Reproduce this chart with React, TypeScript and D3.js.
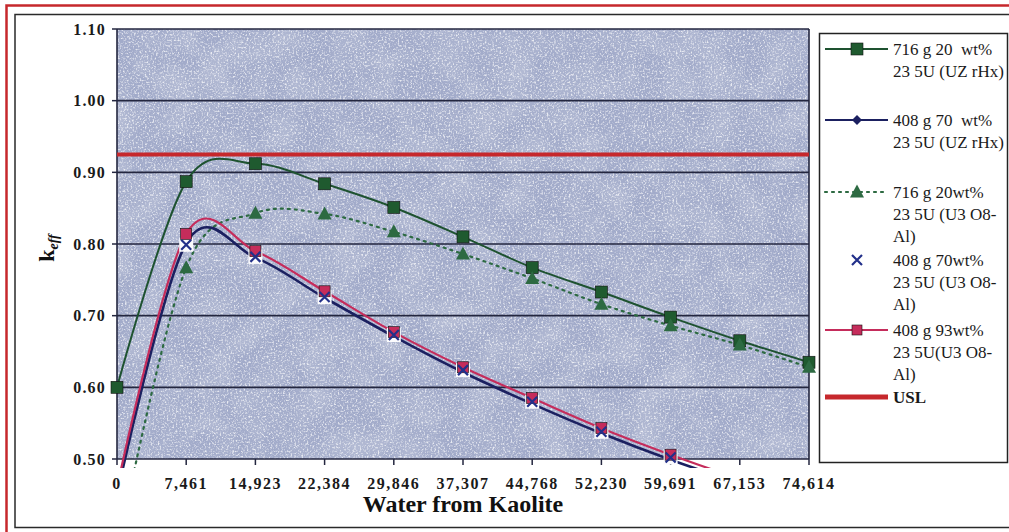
import React from "react";
import * as d3 from "d3";

const xTicks = [0, 7461, 14923, 22384, 29846, 37307, 44768, 52230, 59691, 67153, 74614];
const yTicks = [0.5, 0.6, 0.7, 0.8, 0.9, 1.0, 1.1];
const s716UZrHx = [0.6, 0.887, 0.912, 0.884, 0.851, 0.81, 0.767, 0.733, 0.698, 0.665, 0.635];
const s408UZrHx = [0.45, 0.801, 0.781, 0.725, 0.671, 0.621, 0.577, 0.536, 0.499, 0.466, 0.435];
const s716U3O8 = [0.37, 0.767, 0.843, 0.842, 0.817, 0.786, 0.752, 0.716, 0.686, 0.659, 0.628];
const s408U3O8_70 = [0.45, 0.799, 0.782, 0.726, 0.673, 0.624, 0.58, 0.538, 0.502, 0.466, 0.435];
const s408U3O8_93 = [0.46, 0.814, 0.79, 0.734, 0.677, 0.628, 0.585, 0.543, 0.506, 0.472, 0.44];
const uslValue = 0.925;

const legendLabels = [
  ["716 g 20  wt%", "23 5U (UZ rHx)"],
  ["408 g 70  wt%", "23 5U (UZ rHx)"],
  ["716 g 20wt%", "23 5U (U3 O8-", "Al)"],
  ["408 g 70wt%", "23 5U (U3 O8-", "Al)"],
  ["408 g 93wt%", "23 5U(U3 O8-", "Al)"],
  ["USL"],
];

const GREEN = "#1f5a2f";
const NAVY = "#1b2060";
const TRI = "#2d6a42";
const XCOL = "#22308a";
const PINK = "#c52c5b";
const RED = "#c6282c";
const SERIF = "'Liberation Serif', 'Times New Roman', serif";

export default function App() {
  const x = d3.scaleLinear().domain([0, 74614]).range([117, 809]);
  const y = d3.scaleLinear().domain([0.5, 1.1]).range([459, 29]);
  const line = d3
    .line<number>()
    .x((_, i) => x(xTicks[i]))
    .y((v) => y(v))
    .curve(d3.curveCardinal.tension(0));
  const fmtX = d3.format(",");
  const fmtY = d3.format(".2f");
  const vis = (v: number) => v >= 0.495;

  const square = (cx: number, cy: number, fill: string, key: string, s = 12) => (
    <rect key={key} x={cx - s / 2} y={cy - s / 2} width={s} height={s} fill={fill} stroke="#111" strokeWidth={0.6} />
  );
  const triangle = (cx: number, cy: number, key: string) => (
    <path key={key} d={`M${cx},${cy - 7.5}L${cx + 7},${cy + 5.5}L${cx - 7},${cy + 5.5}Z`} fill={TRI} />
  );
  const xMark = (cx: number, cy: number, key: string) => (
    <g key={key}>
      <path d={`M${cx - 5},${cy - 5}L${cx + 5},${cy + 5}M${cx + 5},${cy - 5}L${cx - 5},${cy + 5}`} stroke={XCOL} strokeWidth={2.2} />
    </g>
  );

  const legendX = 819.5;
  const sampleX1 = 825;
  const sampleX2 = 888;
  const sampleMid = 857;
  const textX = 893;
  const rowY = [49, 120, 192, 260, 330, 397];

  return (
    <svg width={1009} height={532} style={{ position: "absolute", left: 0, top: 0, background: "#fff" }}>
      <defs>
        <filter id="speckle" filterUnits="userSpaceOnUse" x={117} y={29} width={692} height={430}>
          <feTurbulence type="fractalNoise" baseFrequency="0.55" numOctaves={2} seed={4} result="n" />
          <feColorMatrix
            in="n"
            type="matrix"
            values="0 0 0 0 1  0 0 0 0 1  0 0 0 0 1  3.2 0 0 0 -1.55"
          />
        </filter>
        <filter id="blotch" filterUnits="userSpaceOnUse" x={117} y={29} width={692} height={430}>
          <feTurbulence type="fractalNoise" baseFrequency="0.03" numOctaves={2} seed={9} result="n" />
          <feColorMatrix in="n" type="matrix" values="0 0 0 0 1  0 0 0 0 1  0 0 0 0 1  1.2 0 0 0 -0.45" />
        </filter>
        <clipPath id="plotClip">
          <rect x={117} y={29} width={692} height={439} />
        </clipPath>
      </defs>

      {/* frames */}
      <rect x={6.5} y={5.5} width={1010} height={530} fill="none" stroke={RED} strokeWidth={2.5} />
      <rect x={15} y={14.5} width={1010} height={513} fill="none" stroke="#2a2a2a" strokeWidth={1.5} />

      {/* plot area */}
      <rect x={117} y={29} width={692} height={430} fill="#a2abca" />
      <rect x={117} y={29} width={692} height={430} fill="#fff" filter="url(#blotch)" opacity={0.35} />
      <rect x={117} y={29} width={692} height={430} fill="#fff" filter="url(#speckle)" opacity={0.75} />

      {/* gridlines */}
      {yTicks.map((t) => (
        <line key={`g${t}`} x1={117} x2={809} y1={y(t)} y2={y(t)} stroke="#23263f" strokeWidth={1.6} />
      ))}
      <line x1={117} x2={117} y1={29} y2={459} stroke="#23263f" strokeWidth={1.6} />
      <line x1={809} x2={809} y1={29} y2={459} stroke="#23263f" strokeWidth={1.6} />

      {/* y ticks */}
      {yTicks.map((t) => (
        <g key={`yt${t}`}>
          <line x1={112} x2={117} y1={y(t)} y2={y(t)} stroke="#23263f" strokeWidth={1.5} />
          <text
            x={106}
            y={y(t)}
            dy="0.36em"
            textAnchor="end"
            fontFamily={SERIF}
            fontWeight="bold"
            fontSize={16}
            letterSpacing={1.2}
            fill="#1a1a1a"
          >
            {fmtY(t)}
          </text>
        </g>
      ))}

      {/* x ticks */}
      {xTicks.map((t) => (
        <g key={`xt${t}`}>
          <line x1={x(t)} x2={x(t)} y1={459} y2={465} stroke="#23263f" strokeWidth={1.5} />
          <text
            x={x(t)}
            y={489}
            textAnchor="middle"
            fontFamily={SERIF}
            fontWeight="bold"
            fontSize={16}
            letterSpacing={1.5}
            fill="#1a1a1a"
          >
            {fmtX(t)}
          </text>
        </g>
      ))}

      {/* axis titles */}
      <text x={463} y={512} textAnchor="middle" fontFamily={SERIF} fontWeight="bold" fontSize={24} fill="#111">
        Water from Kaolite
      </text>
      <text
        transform="translate(54,248) rotate(-90)"
        textAnchor="middle"
        fontFamily={SERIF}
        fontWeight="bold"
        fontSize={22}
        fill="#111"
      >
        k<tspan fontStyle="italic" fontSize={14} dy={4}>eff</tspan>
      </text>

      {/* USL */}
      <line x1={117} x2={809} y1={y(uslValue)} y2={y(uslValue)} stroke={RED} strokeWidth={4} />

      {/* lines */}
      <g clipPath="url(#plotClip)" fill="none">
        <path d={line(s716UZrHx) || ""} stroke="#1e5230" strokeWidth={2} />
        <path d={line(s716U3O8) || ""} stroke={TRI} strokeWidth={2.2} strokeDasharray="2 5" strokeLinecap="round" />
        <path d={line(s408UZrHx) || ""} stroke={NAVY} strokeWidth={2.6} />
        <path d={line(s408U3O8_93) || ""} stroke={PINK} strokeWidth={2.2} />
      </g>

      {/* markers */}
      {s716UZrHx.map((v, i) => (vis(v) ? square(x(xTicks[i]), y(v), GREEN, `sq${i}`) : null))}
      {s716U3O8.map((v, i) => (vis(v) ? triangle(x(xTicks[i]), y(v), `tr${i}`) : null))}
      {s408U3O8_70.map((v, i) =>
        vis(v) ? (
          <rect key={`wb${i}`} x={x(xTicks[i]) - 7} y={y(v) - 7} width={14} height={14} fill="#fbfbfd" />
        ) : null
      )}
      {s408U3O8_93.map((v, i) => (vis(v) ? square(x(xTicks[i]), y(v), PINK, `pk${i}`, 11) : null))}
      {s408U3O8_70.map((v, i) => (vis(v) ? xMark(x(xTicks[i]), y(v), `x${i}`) : null))}

      {/* legend */}
      <rect x={legendX} y={33.5} width={188} height={429} fill="#fff" stroke="#222" strokeWidth={1.5} />
      <line x1={sampleX1} x2={sampleX2} y1={rowY[0]} y2={rowY[0]} stroke="#1e5230" strokeWidth={2} />
      {square(sampleMid, rowY[0], GREEN, "lg0")}
      <line x1={sampleX1} x2={sampleX2} y1={rowY[1]} y2={rowY[1]} stroke={NAVY} strokeWidth={2.2} />
      <path d={`M${sampleMid},${rowY[1] - 5}L${sampleMid + 5},${rowY[1]}L${sampleMid},${rowY[1] + 5}L${sampleMid - 5},${rowY[1]}Z`} fill={NAVY} />
      <line x1={sampleX1} x2={sampleX2} y1={rowY[2]} y2={rowY[2]} stroke={TRI} strokeWidth={2.2} strokeDasharray="2 5" strokeLinecap="round" />
      {triangle(sampleMid, rowY[2], "lg2")}
      {xMark(sampleMid, rowY[3], "lg3")}
      <line x1={sampleX1} x2={sampleX2} y1={rowY[4]} y2={rowY[4]} stroke={PINK} strokeWidth={2} />
      {square(sampleMid, rowY[4], PINK, "lg4", 10)}
      <line x1={sampleX1} x2={sampleX2} y1={rowY[5]} y2={rowY[5]} stroke={RED} strokeWidth={5} />
      {legendLabels.map((lines, i) => (
        <text key={`lt${i}`} fontFamily={SERIF} fontSize={17} fill="#1a1a1a" fontWeight={i === 5 ? "bold" : "normal"}>
          {lines.map((l, j) => (
            <tspan key={j} x={textX} y={rowY[i] + j * 22} dy="0.35em" style={{ whiteSpace: "pre" }}>
              {l}
            </tspan>
          ))}
        </text>
      ))}
    </svg>
  );
}
